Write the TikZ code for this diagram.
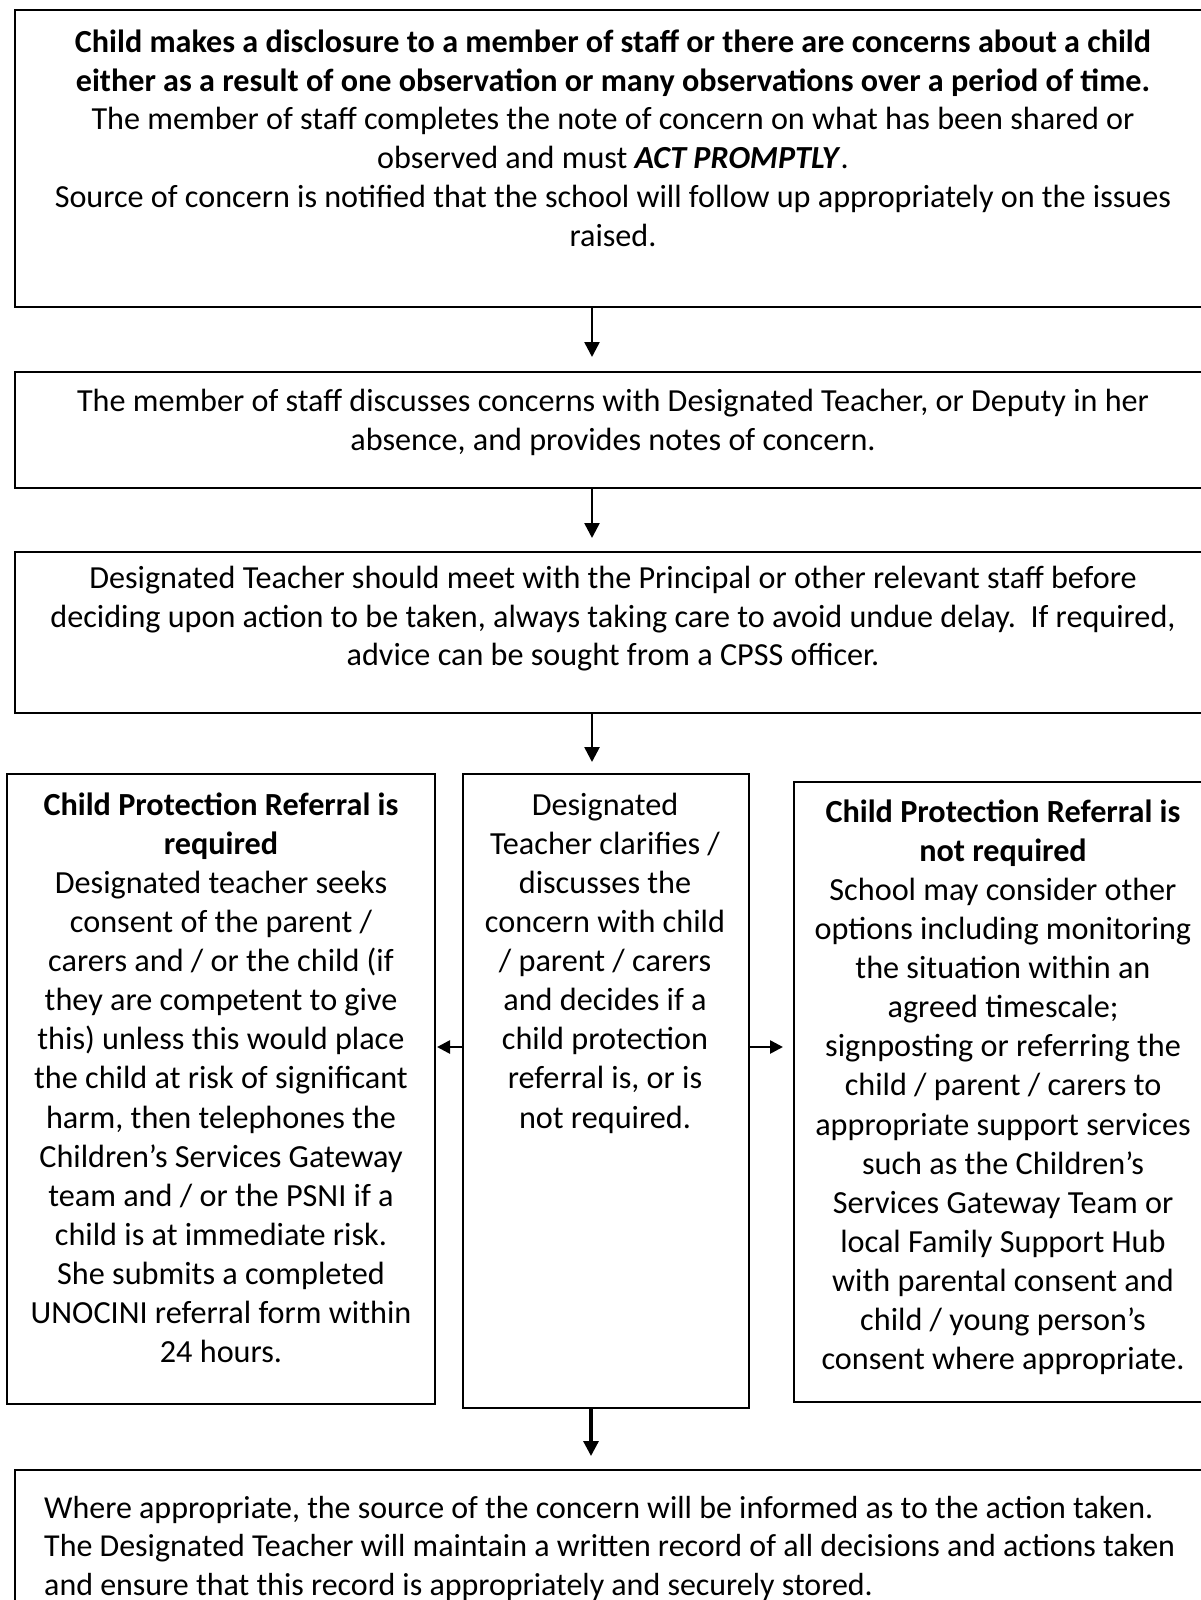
\documentclass[tikz,border=0pt]{standalone}
\usepackage{fontspec}
\setmainfont{Carlito}
\usetikzlibrary{arrows.meta}
\newlength\calw
\tikzset{
  box/.style={draw, line width=2pt, inner sep=0pt, outer sep=0pt, anchor=north west},
  txt/.style={inner sep=0pt, anchor=north, align=center},
  arr/.style={line width=2.6pt, -{Triangle[length=15pt,width=15pt]}},
  sarr/.style={line width=2.6pt, -{Triangle[length=13pt,width=13pt]}},
}
\begin{document}
\settowidth\calw{\fontsize{10}{12}\selectfont The member of staff discusses concerns with Designated Teacher, or Deputy in her}%
\pgfmathsetmacro\szU{10*1072/\calw}%
\settowidth\calw{\fontsize{10}{12}\selectfont\bfseries Child Protection Referral is}%
\pgfmathsetmacro\szL{10*355/\calw}%
\settowidth\calw{\fontsize{10}{12}\selectfont The Designated Teacher will maintain a written record of all decisions and actions taken}%
\pgfmathsetmacro\szB{10*1131/\calw}%
\begin{tikzpicture}[x=1pt,y=-1pt]
\useasboundingbox (0,0) rectangle (1201,1600);
\clip (0,0) rectangle (1201,1600);
% boxes
\node[box, minimum width=1200pt, minimum height=297pt] (b1) at (15,10) {};
\node[box, minimum width=1200pt, minimum height=116pt] (b2) at (15,372) {};
\node[box, minimum width=1200pt, minimum height=161pt] (b3) at (15,552) {};
\node[box, minimum width=428pt, minimum height=630pt] (l) at (7,774) {};
\node[box, minimum width=286pt, minimum height=634pt] (m) at (463,774) {};
\node[box, minimum width=420pt, minimum height=620pt] (r) at (794,782) {};
\node[box, minimum width=1200pt, minimum height=200pt] (b4) at (15,1470) {};
% texts
\node[txt, font={\fontsize{\szU}{38.8}\selectfont}] (t1) at (613,{52-\szU}) {\rule{0pt}{\szU pt}\textbf{Child makes a disclosure to a member of staff or there are concerns about a child}\\
\textbf{either as a result of one observation or many observations over a period of time.}\\
The member of staff completes the note of concern on what has been shared or\\
observed and must \textbf{\textit{ACT PROMPTLY}}.\\
Source of concern is notified that the school will follow up appropriately on the issues\\
raised.};
\node[txt, font={\fontsize{\szU}{38.8}\selectfont}] (t2) at (613,{411-\szU}) {\rule{0pt}{\szU pt}The member of staff discusses concerns with Designated Teacher, or Deputy in her\\
absence, and provides notes of concern.};
\node[txt, font={\fontsize{\szU}{38.8}\selectfont}] (t3) at (613,{588-\szU}) {\rule{0pt}{\szU pt}Designated Teacher should meet with the Principal or other relevant staff before\\
deciding upon action to be taken, always taking care to avoid undue delay.\ \ If required,\\
advice can be sought from a CPSS officer.};
\node[txt, font={\fontsize{\szL}{39.1}\selectfont}] (tl) at (221,{815-\szL}) {\rule{0pt}{\szL pt}\textbf{Child Protection Referral is}\\ \textbf{required}\\ Designated teacher seeks\\ consent of the parent /\\ carers and / or the child (if\\ they are competent to give\\ this) unless this would place\\ the child at risk of significant\\ harm, then telephones the\\ Children’s Services Gateway\\ team and / or the PSNI if a\\ child is at immediate risk.\\ She submits a completed\\ UNOCINI referral form within\\ 24 hours.};
\node[txt, font={\fontsize{\szL}{39.1}\selectfont}] (tm) at (605,{815-\szL}) {\rule{0pt}{\szL pt}Designated\\ Teacher clarifies /\\ discusses the\\ concern with child\\ / parent / carers\\ and decides if a\\ child protection\\ referral is, or is\\ not required.};
\node[txt, font={\fontsize{\szL}{39.1}\selectfont}] (tr) at (1003,{822-\szL}) {\rule{0pt}{\szL pt}\textbf{Child Protection Referral is}\\ \textbf{not required}\\ School may consider other\\ options including monitoring\\ the situation within an\\ agreed timescale;\\ signposting or referring the\\ child / parent / carers to\\ appropriate support services\\ such as the Children’s\\ Services Gateway Team or\\ local Family Support Hub\\ with parental consent and\\ child / young person’s\\ consent where appropriate.};
\node[txt, anchor=north west, align=left, font={\fontsize{\szB}{38.5}\selectfont}] (t4) at (44,{1518-\szB}) {\rule{0pt}{\szB pt}Where appropriate, the source of the concern will be informed as to the action taken.\\
The Designated Teacher will maintain a written record of all decisions and actions taken\\
and ensure that this record is appropriately and securely stored.};
% connectors
\coordinate (col) at (592,0);
\coordinate (col4) at (591,0);
\coordinate (hy) at (0,1047);
\draw[arr, shorten >=15pt] (b1.south -| col) -- (b2.north -| col);
\draw[arr, shorten >=14pt] (b2.south -| col) -- (b3.north -| col);
\draw[arr, shorten >=12pt] (b3.south -| col) -- (m.north -| col);
\draw[arr, line width=3.2pt, shorten >=14pt] (m.south -| col4) -- (b4.north -| col4);
\draw[sarr, shorten >=2pt] (m.west |- hy) -- (l.east |- hy);
\draw[sarr, shorten >=11pt] (m.east |- hy) -- (r.west |- hy);
\end{tikzpicture}
\end{document}
